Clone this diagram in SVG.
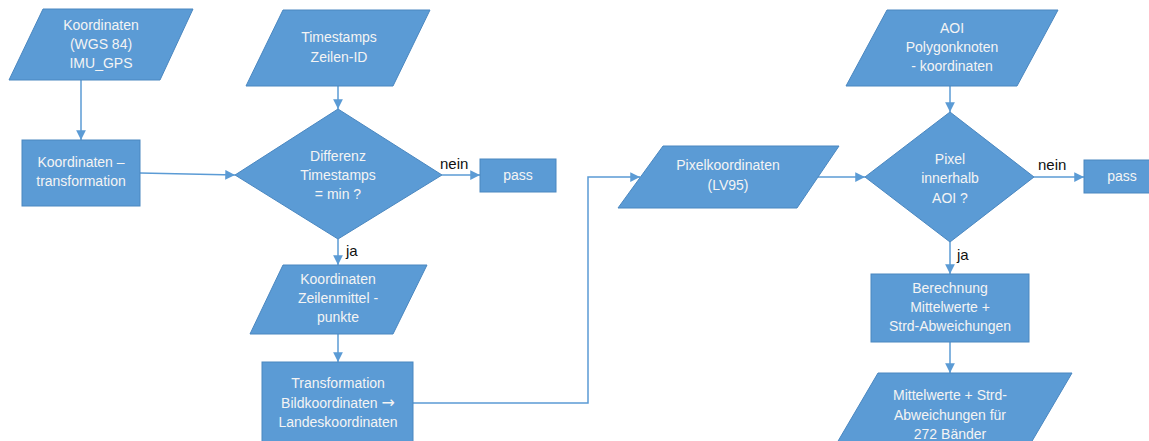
<svg xmlns="http://www.w3.org/2000/svg" width="1149" height="441" viewBox="0 0 1149 441">
<style>
.n{fill:#5B9BD5;stroke:#4A87C0;stroke-width:1}
.t{fill:#F4F4F4;font-family:"Liberation Sans",Arial,sans-serif;font-size:14px;text-anchor:middle}
.l{fill:#111;font-family:"Liberation Sans",Arial,sans-serif;font-size:15px}
.c{fill:none;stroke:#5B9BD5;stroke-width:1.5;marker-end:url(#a)}
.ar{font-family:"Noto Sans","DejaVu Sans",sans-serif;font-size:16px}
</style>
<defs>
<marker id="a" viewBox="0 0 10 10" refX="10" refY="5" markerWidth="6.5" markerHeight="6.5" orient="auto" markerUnits="strokeWidth">
<path d="M0,0 L10,5 L0,10 z" fill="#5B9BD5"/>
</marker>
</defs>
<rect width="1149" height="441" fill="#fff"/>
<g id="connectors">
<path class="c" d="M81,80 V140"/>
<path class="c" d="M140,173 L235,175"/>
<path class="c" d="M338,86 V109"/>
<path class="c" d="M442,175 H480"/>
<path class="c" d="M338,239 V265"/>
<path class="c" d="M338,334 V362"/>
<path class="c" d="M413,403 H588 V177 H640"/>
<path class="c" d="M818,177 H865"/>
<path class="c" d="M950,86 V112"/>
<path class="c" d="M1034,177 H1084"/>
<path class="c" d="M950,242 V274"/>
<path class="c" d="M950,342 V373"/>
<text class="l" x="440" y="169">nein</text>
<text class="l" x="346" y="256">ja</text>
<text class="l" x="1038" y="170">nein</text>
<text class="l" x="957" y="260">ja</text>
</g>
<g id="n1">
<polygon class="n" points="43,9 193,9 160,80 9,80"/>
<text class="t" x="101" y="30">Koordinaten</text>
<text class="t" x="101" y="49">(WGS 84)</text>
<text class="t" x="101" y="68">IMU_GPS</text>
</g>
<g id="n2">
<rect class="n" x="22" y="140" width="118" height="66"/>
<text class="t" x="81" y="167">Koordinaten –</text>
<text class="t" x="81" y="186">transformation</text>
</g>
<g id="n3">
<polygon class="n" points="283,10 430,10 393,86 246,86"/>
<text class="t" x="339" y="42">Timestamps</text>
<text class="t" x="339" y="62">Zeilen-ID</text>
</g>
<g id="d1">
<polygon class="n" points="338,109 442,175 338,239 235,175"/>
<text class="t" x="338" y="161">Differenz</text>
<text class="t" x="338" y="180">Timestamps</text>
<text class="t" x="338" y="199">= min ?</text>
</g>
<g id="p1">
<rect class="n" x="480" y="159" width="76" height="33"/>
<text class="t" x="518" y="180">pass</text>
</g>
<g id="n4">
<polygon class="n" points="283,265 427,265 393,334 250,334"/>
<text class="t" x="338" y="284">Koordinaten</text>
<text class="t" x="338" y="303">Zeilenmittel -</text>
<text class="t" x="338" y="322">punkte</text>
</g>
<g id="n5">
<rect class="n" x="262" y="362" width="151" height="84"/>
<text class="t" x="338" y="388">Transformation</text>
<text class="t" x="338" y="408">Bildkoordinaten <tspan class="ar">→</tspan></text>
<text class="t" x="338" y="427">Landeskoordinaten</text>
</g>
<g id="n6">
<polygon class="n" points="663,146 839,146 797,208 618,208"/>
<text class="t" x="728" y="170">Pixelkoordinaten</text>
<text class="t" x="728" y="190">(LV95)</text>
</g>
<g id="n7">
<polygon class="n" points="887,10 1058,10 1017,86 846,86"/>
<text class="t" x="952" y="33">AOI</text>
<text class="t" x="952" y="52">Polygonknoten</text>
<text class="t" x="952" y="71">- koordinaten</text>
</g>
<g id="d2">
<polygon class="n" points="950,112 1034,177 950,242 865,177"/>
<text class="t" x="950" y="164">Pixel</text>
<text class="t" x="950" y="183">innerhalb</text>
<text class="t" x="950" y="203">AOI ?</text>
</g>
<g id="p2">
<rect class="n" x="1084" y="160" width="76" height="33"/>
<text class="t" x="1122" y="181">pass</text>
</g>
<g id="n8">
<rect class="n" x="871" y="274" width="158" height="68"/>
<text class="t" x="950" y="293">Berechnung</text>
<text class="t" x="950" y="312">Mittelwerte +</text>
<text class="t" x="950" y="331">Strd-Abweichungen</text>
</g>
<g id="n9">
<polygon class="n" points="878,373 1072,373 1028,448 834,448"/>
<text class="t" x="950" y="400">Mittelwerte + Strd-</text>
<text class="t" x="950" y="420">Abweichungen für</text>
<text class="t" x="950" y="439">272 Bänder</text>
</g>
</svg>
